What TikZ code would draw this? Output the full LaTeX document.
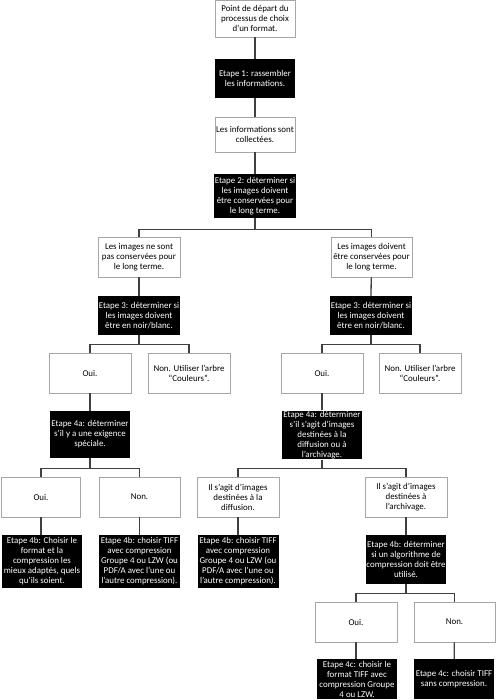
\documentclass[tikz,border=0pt]{standalone}
\usepackage{fontspec}
\setmainfont{Carlito}
\begin{document}
\begin{tikzpicture}[x=1pt,y=-1pt,
  base/.style={rectangle,inner sep=0.5pt,align=center,font=\fontsize{8.9}{10}\selectfont},
  wbox/.style={base,draw=black!35,line width=0.8pt,fill=white,text=black},
  bbox/.style={base,fill=black,text=white},
  conn/.style={draw=black!75,line width=1.3pt}]
\useasboundingbox (0,0) rectangle (496,700);
% nodes
\node[wbox,minimum width=80,minimum height=36.5] (start) at (255,18.75) {Point de départ du\\processus de choix\\d’un format.};
\node[bbox,minimum width=80,minimum height=39] (e1) at (255,78.5) {Etape 1: rassembler\\les informations.};
\node[wbox,minimum width=80,minimum height=35] (info) at (255,134.5) {Les informations sont\\collectées.};
\node[bbox,minimum width=82,minimum height=44] (e2) at (255,196) {Etape 2: déterminer si\\les images doivent\\être conservées pour\\le long terme.};
\node[wbox,minimum width=82,minimum height=40] (notcons) at (139,257) {Les images ne sont\\pas conservées pour\\le long terme.};
\node[wbox,minimum width=81,minimum height=40] (cons) at (371.5,257) {Les images doivent\\être conservées pour\\le long terme.};
\node[bbox,minimum width=80,minimum height=39] (e3L) at (139,315.5) {Etape 3: déterminer si\\les images doivent\\être en noir/blanc.};
\node[bbox,minimum width=80,minimum height=39] (e3R) at (371,315.5) {Etape 3: déterminer si\\les images doivent\\être en noir/blanc.};
\node[wbox,minimum width=82,minimum height=40] (ouiL) at (90,373) {Oui.};
\node[wbox,minimum width=82,minimum height=40] (nonL) at (189,373) {Non. Utiliser l’arbre\\“Couleurs”.};
\node[wbox,minimum width=82,minimum height=40] (ouiR) at (322,373) {Oui.};
\node[wbox,minimum width=82,minimum height=40] (nonR) at (420,373) {Non. Utiliser l’arbre\\“Couleurs”.};
\node[bbox,minimum width=80,minimum height=47] (e4aL) at (90,434.5) {Etape 4a: déterminer\\s’il y a une exigence\\spéciale.};
\node[bbox,minimum width=80,minimum height=48] (e4aR) at (322,435) {Etape 4a: déterminer\\s’il s’agit d’images\\destinées à la\\diffusion ou à\\l’archivage.};
\node[wbox,minimum width=79,minimum height=40] (oui2) at (41,497) {Oui.};
\node[wbox,minimum width=81,minimum height=40] (non2) at (139.5,497) {Non.};
\node[wbox,minimum width=82,minimum height=40] (diff) at (238,497) {Il s’agit d’images\\destinées à la\\diffusion.};
\node[wbox,minimum width=82,minimum height=40] (arch) at (406,497) {Il s’agit d’images\\destinées à\\l’archivage.};
\node[bbox,minimum width=80,minimum height=53] (e4bL) at (42,561.5) {Etape 4b: Choisir le\\format et la\\compression les\\mieux adaptés, quels\\qu’ils soient.};
\node[bbox,minimum width=81,minimum height=53] (e4bM) at (139.5,561.5) {Etape 4b: choisir TIFF\\avec compression\\Groupe 4 ou LZW (ou\\PDF/A avec l’une ou\\l’autre compression).};
\node[bbox,minimum width=81,minimum height=53] (e4bD) at (238,561.5) {Etape 4b: choisir TIFF\\avec compression\\Groupe 4 ou LZW (ou\\PDF/A avec l’une ou\\l’autre compression).};
\node[bbox,minimum width=80,minimum height=49] (e4bA) at (406,559.5) {Etape 4b: déterminer\\si un algorithme de\\compression doit être\\utilisé.};
\node[wbox,minimum width=82,minimum height=40] (ouiA) at (356,622) {Oui.};
\node[wbox,minimum width=81,minimum height=40] (nonA) at (454.5,622) {Non.};
\node[bbox,minimum width=80,minimum height=40] (e4cL) at (357,679) {Etape 4c: choisir le\\format TIFF avec\\compression Groupe\\4 ou LZW.};
\node[bbox,minimum width=80,minimum height=40] (e4cR) at (454,679) {Etape 4c: choisir TIFF\\sans compression.};
% connectors
\draw[conn] (start) -- (e1);
\draw[conn] (e1) -- (info);
\draw[conn] (info) -- (e2);
\draw[conn] (e2.south) -- ++(0,11) -| (notcons.north);
\draw[conn] (e2.south) -- ++(0,11) -| (cons.north);
\draw[conn] (notcons) -- (e3L);
\draw[conn] (cons) -- (e3R.north);
\draw[conn] (e3L.south) -- ++(0,9) -| (ouiL.north);
\draw[conn] (e3L.south) -- ++(0,9) -| (nonL.north);
\draw[conn] (e3R.south) -- ++(0,9.5) -| (ouiR.north);
\draw[conn] (e3R.south) -- ++(0,9.5) -| (nonR.north);
\draw[conn] (ouiL) -- (e4aL);
\draw[conn] (ouiR) -- (e4aR);
\draw[conn] (e4aL.south) -- ++(0,10) -| (oui2.north);
\draw[conn] (e4aL.south) -- ++(0,10) -| (non2.north);
\draw[conn] (e4aR.south) -- ++(0,9) -| (diff.north);
\draw[conn] (e4aR.south) -- ++(0,9) -| (arch.north);
\draw[conn] (oui2.south) -- (oui2.south |- e4bL.north);
\draw[conn] (non2) -- (e4bM);
\draw[conn] (diff) -- (e4bD);
\draw[conn] (arch) -- (e4bA);
\draw[conn] (e4bA.south) -- ++(0,9) -| (ouiA.north);
\draw[conn] (e4bA.south) -- ++(0,9) -| (nonA.north);
\draw[conn] (ouiA.south) -- (ouiA.south |- e4cL.north);
\draw[conn] (nonA) -- (e4cR);
\end{tikzpicture}
\end{document}
